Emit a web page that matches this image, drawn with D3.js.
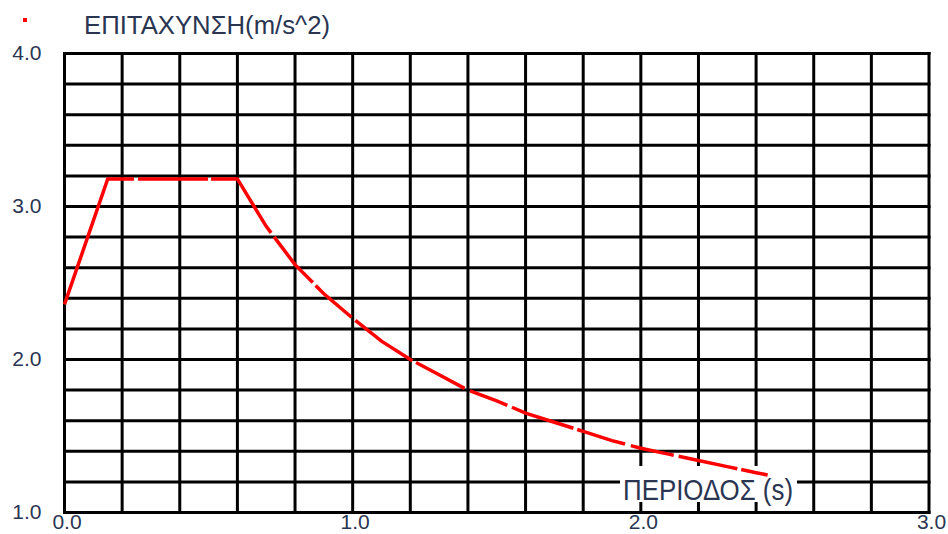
<!DOCTYPE html>
<html>
<head>
<meta charset="utf-8">
<script src="https://cdn.jsdelivr.net/npm/d3@7"></script>
<style>
  html, body { margin: 0; padding: 0; background: #fff; }
  svg { display: block; }
</style>
</head>
<body>
<svg id="chart" width="948" height="534"></svg>
<script>
// ---- data ----
const periods = [0, 0.15, 0.60, 0.70, 0.80, 0.90, 1.00, 1.10, 1.20, 1.30, 1.40, 1.50, 1.60, 1.70, 1.80, 1.90, 2.00, 2.10, 2.20, 2.30, 2.40, 2.44];
const accel   = [2.36, 3.18, 3.18, 2.87, 2.62, 2.43, 2.27, 2.12, 2.00, 1.90, 1.80, 1.73, 1.65, 1.59, 1.53, 1.47, 1.42, 1.38, 1.34, 1.30, 1.26, 1.245];
const xTickValues = [0, 1, 2, 3];
const xTickLabels = ["0.0", "1.0", "2.0", "3.0"];
const yTickValues = [1, 2, 3, 4];
const yTickLabels = ["1.0", "2.0", "3.0", "4.0"];
const yTitle = "ΕΠΙΤΑΧΥΝΣΗ(m/s^2)";
const xTitle = "ΠΕΡΙΟΔΟΣ (s)";

const svg = d3.select("#chart");
const x = d3.scaleLinear().domain([0, 3]).range([64.5, 929]);
const y = d3.scaleLinear().domain([1, 4]).range([512.5, 53.5]);
const textColor = "#2a3552";
const font = "'Liberation Sans', Arial, sans-serif";

// grid
const grid = svg.append("g").attr("stroke", "#000").attr("stroke-width", 3).attr("stroke-linecap", "square");
grid.selectAll("line.v").data(x.ticks(15)).join("line")
  .attr("x1", d => x(d)).attr("x2", d => x(d))
  .attr("y1", y(4)).attr("y2", y(1));
grid.selectAll("line.h").data(y.ticks(15)).join("line")
  .attr("y1", d => y(d)).attr("y2", d => y(d))
  .attr("x1", x(0)).attr("x2", x(3));

// y tick labels
const yAxis = svg.append("g")
  .attr("transform", `translate(${x(0)},0)`)
  .call(d3.axisLeft(y).tickValues(yTickValues).tickSize(0).tickPadding(23)
        .tickFormat((d, i) => yTickLabels[i]));
yAxis.select(".domain").remove();
yAxis.selectAll("text").attr("fill", textColor).attr("font-size", 21)
  .attr("font-family", font).attr("dy", "0.28em");

// x tick labels
const xAxis = svg.append("g")
  .attr("transform", `translate(0,${y(1)})`)
  .call(d3.axisBottom(x).tickValues(xTickValues).tickSize(0).tickPadding(2)
        .tickFormat((d, i) => xTickLabels[i]));
xAxis.select(".domain").remove();
xAxis.selectAll("text").attr("fill", textColor).attr("font-size", 21)
  .attr("font-family", font).attr("dx", 2);

// x title with white background
svg.append("rect").attr("x", 620).attr("y", 466).attr("width", 177).attr("height", 36).attr("fill", "#fff");
svg.append("text").attr("x", 623).attr("y", 500)
  .attr("textLength", 170).attr("lengthAdjust", "spacingAndGlyphs")
  .attr("font-family", font).attr("font-size", 29).attr("fill", textColor)
  .text(xTitle);

// y title + legend dot
svg.append("rect").attr("x", 23).attr("y", 18).attr("width", 4).attr("height", 4).attr("fill", "#ff0000");
svg.append("text").attr("x", 84).attr("y", 34)
  .attr("textLength", 246).attr("lengthAdjust", "spacingAndGlyphs")
  .attr("font-family", font).attr("font-size", 26).attr("fill", textColor)
  .text(yTitle);

// curve
const pts = periods.map((t, i) => [t, accel[i]]);
svg.append("path")
  .datum(pts)
  .attr("d", d3.line().x(d => x(d[0])).y(d => y(d[1])))
  .attr("fill", "none")
  .attr("stroke", "#ff0000")
  .attr("stroke-width", 3.5)
  .attr("stroke-dasharray", "159,4,70,3,90,5,60,4,48,5,70,4,55,6,40,5,65,4,50,6,44,5,60,4,38,5,2000");
</script>
</body>
</html>
